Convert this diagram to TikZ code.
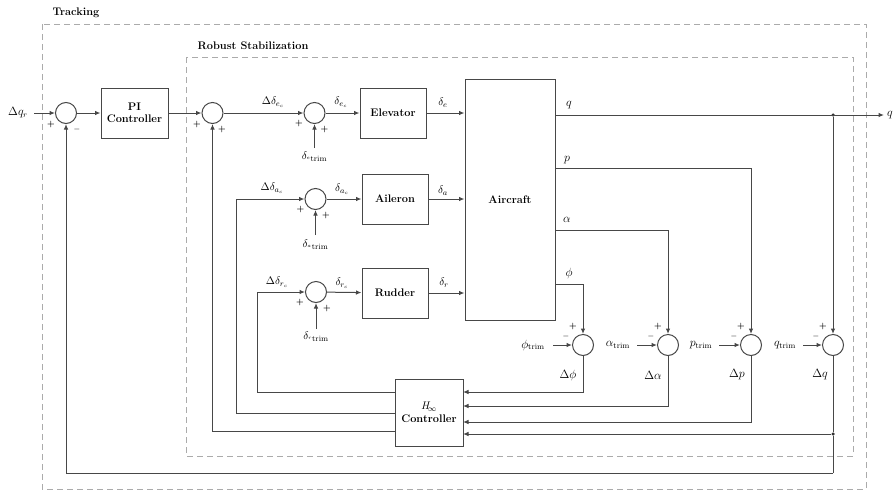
\documentclass[tikz,border=0pt]{standalone}
\usetikzlibrary{arrows.meta,calc}
\begin{document}
\begin{tikzpicture}[x=1pt,y=-1pt,
  wire/.style={draw=black!72,line width=1pt},
  arr/.style={wire,-{Latex[length=5.5pt,width=4.5pt]}},
  blk/.style={draw=black!72,line width=1pt,rectangle,inner sep=0pt,
    font=\fontsize{11}{12.5}\selectfont\bfseries,align=center},
  sumnode/.style={draw=black!72,line width=1pt,circle,minimum size=21pt,inner sep=0pt},
  frame/.style={draw=black!33,line width=0.9pt,dash pattern=on 6pt off 4pt},
  ttl/.style={font=\fontsize{11}{12}\selectfont\bfseries},
  sig/.style={font=\fontsize{8}{8}\selectfont\bfseries,inner sep=0pt},
  lbl/.style={font=\fontsize{11}{12}\selectfont,inner sep=0pt},
  big/.style={font=\fontsize{12}{13}\selectfont,inner sep=0pt},
  dot/.style={circle,fill=black!80,inner sep=0pt,minimum size=3.5pt}]
\useasboundingbox (0,0) rectangle (893,490);

% dashed frames
\draw[frame] (42,24) rectangle (866,489);
\draw[frame] (186,57) rectangle (853,456);
\node[ttl] (ttrack) at (76,13) {Tracking};
\node[ttl] (trobust) at (253,46) {Robust Stabilization};

% blocks
\node[sumnode] (s1) at (66,113) {};
\node[blk,minimum width=67pt,minimum height=50pt] (pi) at (134.5,113) {PI\\[-1pt]Controller};
\node[sumnode] (s2) at (212.5,113) {};
\node[sumnode] (se) at (314.5,113) {};
\node[blk,minimum width=66pt,minimum height=50pt] (elev) at (393,113) {Elevator};
\node[sumnode] (sa) at (315.5,199) {};
\node[blk,minimum width=66pt,minimum height=50pt] (ail) at (395,199) {Aileron};
\node[sumnode] (sr) at (316,292) {};
\node[blk,minimum width=66pt,minimum height=50pt] (rud) at (395,293) {Rudder};
\node[blk,minimum width=90pt,minimum height=241pt] (ac) at (510,199.5) {Aircraft};
\node[blk,minimum width=68pt,minimum height=67pt] (hinf) at (429,412.5)
  {$\mathit{H}_{\!\infty}$\\[1pt]Controller};
\node[sumnode] (sphi) at (583,345) {};
\node[sumnode] (salpha) at (668,345) {};
\node[sumnode] (sp) at (751,345) {};
\node[sumnode] (sq) at (833,345) {};

% reference input
\node[big] (lqr) at (18,113) {$\Delta q_r$};
\coordinate (qin) at (34,113);
\draw[arr] (qin) -- (s1);
\draw[arr] (s1) -- (pi);
\draw[arr] (pi) -- (s2);
\draw[arr] (s2) -- (se);
\draw[arr] (se) -- (elev);
\draw[arr] (elev.east) -- (elev.east -| ac.west);
\draw[arr] (sa) -- (ail);
\draw[arr] (ail.east) -- (ail.east -| ac.west);
\draw[arr] (sr) -- (rud);
\draw[arr] (rud.east) -- (rud.east -| ac.west);

% trim inputs of the actuators
\coordinate (te) at (314.5,148);
\coordinate (ta) at (315.5,235);
\coordinate (tr) at (316,329);
\draw[arr] (te) -- (se);
\draw[arr] (ta) -- (sa);
\draw[arr] (tr) -- (sr);
\node[lbl] (lte) at (314.5,157) {$\delta_{{}^{e}\mathrm{trim}}$};
\node[lbl] (lta) at (315.5,245) {$\delta_{{}^{a}\mathrm{trim}}$};
\node[lbl] (ltr) at (316,337) {$\delta_{{}^{r}\mathrm{trim}}$};

% signal labels
\node[lbl] (ldec) at (273,102) {$\Delta\delta_{e_c}$};
\node[lbl] (lec) at (341,102) {$\delta_{e_c}$};
\node[lbl] (lde) at (443,103) {$\delta_e$};
\node[lbl] (ldac) at (272,188) {$\Delta\delta_{a_c}$};
\node[lbl] (lac) at (342,189) {$\delta_{a_c}$};
\node[lbl] (lda) at (443,191) {$\delta_a$};
\node[lbl] (ldrc) at (277,282) {$\Delta\delta_{r_c}$};
\node[lbl] (lrc) at (342,283) {$\delta_{r_c}$};
\node[lbl] (ldr) at (444,283) {$\delta_r$};

% aircraft outputs
\coordinate (oq) at (555,115);
\coordinate (op) at (555,168);
\coordinate (oal) at (555,230);
\coordinate (ophi) at (555,284);
\coordinate (qout) at (884,115);
\node[dot] (jq) at (833,115) {};
\draw[arr] (oq) -- (qout);
\node[big] (lqo) at (890,115) {$q$};
\draw[arr] (jq) -- (sq);
\draw[arr] (op) -| (sp);
\draw[arr] (oal) -| (salpha);
\draw[arr] (ophi) -| (sphi);
\node[big] (lq) at (569,105) {$q$};
\node[big] (lp) at (567,160) {$p$};
\node[big] (lal) at (567,220) {$\alpha$};
\node[big] (lph) at (569,273) {$\phi$};

% trim values subtracted from the outputs
\node[big] (tphi) at (533,345) {$\phi_{\mathrm{trim}}$};
\node[big] (talpha) at (618,345) {$\alpha_{\mathrm{trim}}$};
\node[big] (tp) at (701,345) {$p_{\mathrm{trim}}$};
\node[big] (tq) at (785,345) {$q_{\mathrm{trim}}$};
\coordinate (aphi) at (553,345);
\coordinate (aalpha) at (637,345);
\coordinate (ap) at (719,345);
\coordinate (aq) at (803,345);
\draw[arr] (aphi) -- (sphi);
\draw[arr] (aalpha) -- (salpha);
\draw[arr] (ap) -- (sp);
\draw[arr] (aq) -- (sq);

\node[big] (dphi) at (568,375) {$\Delta\phi$};
\node[big] (dalpha) at (653,375) {$\Delta\alpha$};
\node[big] (dp) at (737,375) {$\Delta p$};
\node[big] (dq) at (820,375) {$\Delta q$};

% deviations into the H-infinity controller
\coordinate (h1) at (463,392);
\coordinate (h2) at (463,406);
\coordinate (h3) at (463,422);
\coordinate (h4) at (463,434);
\draw[arr] (sphi) |- (h1);
\draw[arr] (salpha) |- (h2);
\draw[arr] (sp) |- (h3);
\node[dot] (jdq) at (833,434) {};
\draw[wire] (sq) -- (jdq);
\draw[arr] (jdq) -- (h4);

% controller commands back to the actuators
\coordinate (c1) at (395,392);
\coordinate (c2) at (395,413);
\coordinate (c3) at (395,431);
\coordinate (kr) at (257,292);
\coordinate (ka) at (236,199);
\draw[wire] (c1) -| (kr);
\draw[arr] (kr) -- (sr);
\draw[wire] (c2) -| (ka);
\draw[arr] (ka) -- (sa);
\draw[arr] (c3) -| (s2);

% outer tracking loop
\coordinate (fb) at (833,473);
\draw[wire] (jdq) -- (fb);
\draw[arr] (fb) -| (s1);

% summing signs
\node[sig] (g1a) at (51,124) {+};
\node[sig] (g1b) at (77,129) {$-$};
\node[sig] (g2a) at (197,124) {+};
\node[sig] (g2b) at (222,129) {+};
\node[sig] (gea) at (299,123) {+};
\node[sig] (geb) at (324.5,129) {+};
\node[sig] (gaa) at (300.5,209) {+};
\node[sig] (gab) at (326,215) {+};
\node[sig] (gra) at (300,302) {+};
\node[sig] (grb) at (327,308) {+};
\foreach \s in {sphi,salpha,sp,sq}{
  \node[sig] (\s-plus) at ($(\s)+(-10,-19)$) {+};
  \node[sig] (\s-minus) at ($(\s)+(-17,-9)$) {$-$};
}
\end{tikzpicture}
\end{document}
